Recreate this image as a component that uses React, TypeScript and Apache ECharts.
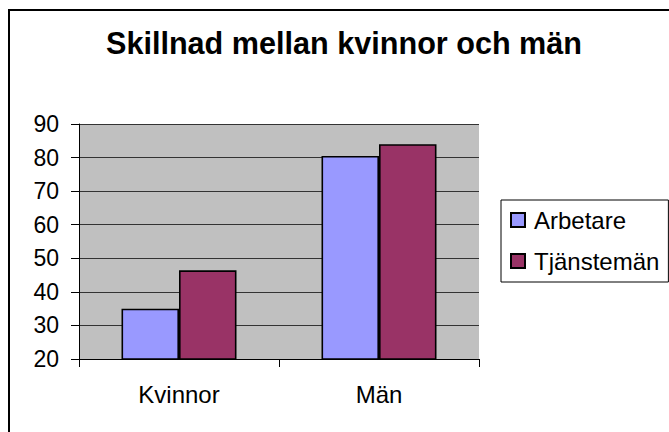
import React, { useEffect, useRef } from "react";
import * as echarts from "echarts";

const titleText = "Skillnad mellan kvinnor och män";
const categories = ["Kvinnor", "Män"];
const seriesNames = ["Arbetare", "Tjänstemän"];
const arbetare = [35, 80.5];
const tjansteman = [46.4, 84];
const yMin = 20;
const yMax = 90;
const yStep = 10;

const FONT = "'Liberation Sans', Arial, sans-serif";

export default function App() {
  const ref = useRef<HTMLDivElement>(null);
  useEffect(() => {
    if (!ref.current) return;
    const chart = echarts.init(ref.current, null, { renderer: "svg" });
    chart.setOption({
      animation: false,
      backgroundColor: "#ffffff",
      textStyle: { fontFamily: FONT, color: "#000" },
      title: {
        text: titleText,
        left: 106,
        top: 27,
        padding: 0,
        textStyle: { fontFamily: FONT, fontSize: 30.6, fontWeight: "bold", color: "#000" },
      },
      graphic: [
        {
          type: "rect",
          shape: { x: 9, y: 10, width: 700, height: 500 },
          style: { fill: "none", stroke: "#000", lineWidth: 2 },
          silent: true,
          z: 100,
        },
      ],
      legend: {
        orient: "vertical",
        left: 501,
        top: 200,
        padding: [6, 9, 7, 9],
        itemGap: 13,
        itemWidth: 14,
        itemHeight: 14,
        borderColor: "#000",
        borderWidth: 1,
        selectedMode: false,
        icon: "rect",
        data: seriesNames,
        textStyle: { fontFamily: FONT, fontSize: 24, color: "#000", lineHeight: 28, padding: [0, 0, 0, 4] },
      },
      grid: { left: 79, top: 124, width: 400, height: 235, containLabel: false, show: true, backgroundColor: "#C0C0C0", borderWidth: 0 },
      xAxis: {
        type: "category",
        data: categories,
        axisLine: { lineStyle: { color: "#000", width: 1 } },
        axisTick: { show: true, length: 8, lineStyle: { color: "#000" } },
        axisLabel: { fontFamily: FONT, fontSize: 24, color: "#000", margin: 23 },
        splitLine: { show: false },
      },
      yAxis: {
        type: "value",
        min: yMin,
        max: yMax,
        interval: yStep,
        axisLine: { show: true, lineStyle: { color: "#000", width: 1 } },
        axisTick: { show: true, length: 8, lineStyle: { color: "#000" } },
        axisLabel: { fontFamily: FONT, fontSize: 23, color: "#000", margin: 20 },
        splitLine: { show: true, lineStyle: { color: "#333333", width: 1 } },
      },
      series: [
        {
          name: seriesNames[0],
          type: "bar",
          data: arbetare,
          barGap: "0%",
          barCategoryGap: "42.5%",
          itemStyle: { color: "#9999FF", borderColor: "#000", borderWidth: 1.6 },
        },
        {
          name: seriesNames[1],
          type: "bar",
          data: tjansteman,
          barGap: "0%",
          barCategoryGap: "42.5%",
          itemStyle: { color: "#993366", borderColor: "#000", borderWidth: 1.6 },
        },
      ],
    });
    return () => chart.dispose();
  }, []);
  return (
    <div
      ref={ref}
      style={{ position: "fixed", left: 0, top: 0, width: 669, height: 432 }}
    />
  );
}
